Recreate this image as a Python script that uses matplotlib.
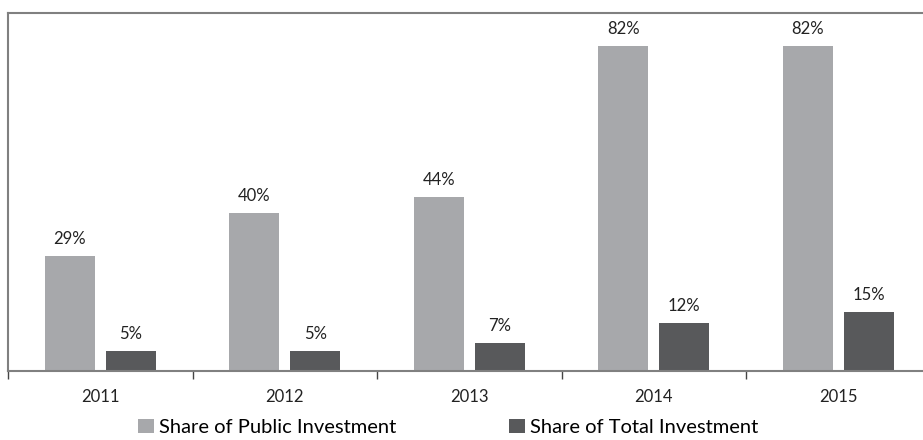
import matplotlib
matplotlib.use("Agg")
import matplotlib.pyplot as plt
import numpy as np

years = ["2011", "2012", "2013", "2014", "2015"]
public_share = [29, 40, 44, 82, 82]
total_share = [5, 5, 7, 12, 15]
series_names = ["Share of Public Investment", "Share of Total Investment"]
colors = ["#A7A8AB", "#58595B"]

plt.rcParams['font.family'] = ['Lato', 'DejaVu Sans']

fig = plt.figure(figsize=(9.23, 4.4), dpi=100)
ax = fig.add_axes([8/923, 1-371/440, 922.5/923, 358/440])

x = np.arange(len(years))
w = 0.27
off = 0.165
b1 = ax.bar(x - off, public_share, w, color=colors[0], label=series_names[0])
b2 = ax.bar(x + off, total_share, w, color=colors[1], label=series_names[1])

for bars, vals in ((b1, public_share), (b2, total_share)):
    for r, v in zip(bars, vals):
        ax.annotate(f"{v}%", (r.get_x() + r.get_width()/2, r.get_height()),
                    xytext=(0, 6.5), textcoords="offset points",
                    ha="center", va="bottom", fontsize=12, color="#222222")

ax.set_xlim(-0.5, len(years) - 0.5)
ax.set_ylim(0, 90.4)
ax.set_yticks([])
ax.set_xticks(x)
ax.set_xticklabels(years, fontsize=12, color="#222222")
ax.tick_params(axis="x", which="major", length=0, pad=13)
ax.set_xticks(np.arange(-0.5, len(years) + 0.5, 1), minor=True)
ax.tick_params(axis="x", which="minor", length=6, width=1, color="#444444", direction="out")

for s in ["top", "left", "bottom"]:
    ax.spines[s].set_color("#808080")
    ax.spines[s].set_linewidth(1.5)
ax.spines["right"].set_visible(False)

fig.legend(handles=[b1, b2], labels=series_names, loc="lower left",
           bbox_to_anchor=(134/923, 0.0), ncol=2, frameon=False, fontsize=14.5,
           borderpad=0.2, borderaxespad=0,
           handlelength=0.8, handleheight=0.65, handletextpad=0.25, columnspacing=5.6)

fig.savefig("out.png", dpi=100)
